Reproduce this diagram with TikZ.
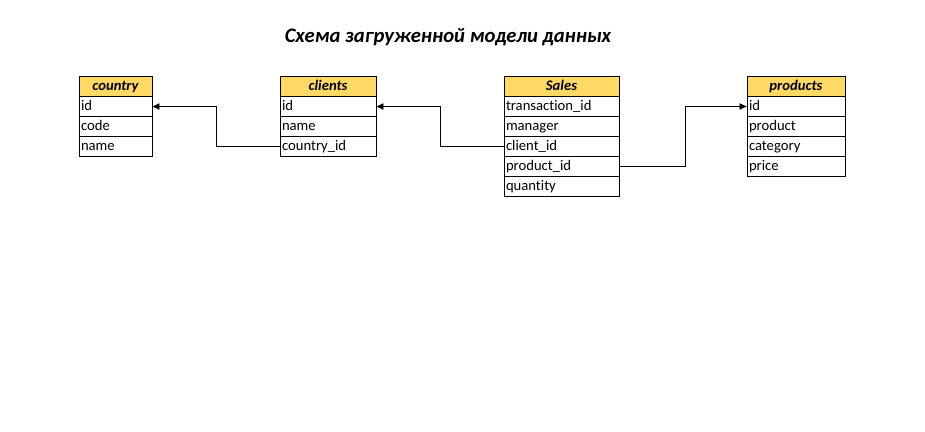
\documentclass[tikz,border=0pt]{standalone}
\usepackage{fontspec}
\setmainfont{Carlito}[Ligatures={NoCommon}]
\usetikzlibrary{positioning,arrows.meta}
\definecolor{headgold}{HTML}{FFD966}

\begin{document}
\begin{tikzpicture}[%
    x=0.75pt,
    y=-0.75pt,
    >={Latex[length=5.5pt,width=5pt]},
    node distance=0pt,
    every node/.style={outer sep=0pt, line width=0.75pt},
    head/.style={%
      draw,
      fill=headgold,
      minimum width=#1,
      text height=10.5pt,
      text depth=4.5pt,
      inner sep=0pt,
      font=\fontsize{11pt}{13pt}\selectfont\bfseries\itshape
    },
    field/.style={%
      draw,
      text width=#1,
      text height=10.75pt,
      text depth=4.25pt,
      inner xsep=1.5pt,
      inner ysep=0pt,
      align=left,
      font=\fontsize{11pt}{13pt}\selectfont
    }
  ]
    \useasboundingbox (0,0) rectangle (925,432);

    \node (title) at (448,37) {\fontsize{15.5pt}{18pt}\selectfont\bfseries\itshape Схема загруженной модели данных};

    % country
    \node[head=54.75pt] (cty) at (115.5,86.5)          {country};
    \node[field=51.75pt] (cty-id)   [below=of cty]     {id};
    \node[field=51.75pt] (cty-code) [below=of cty-id]  {code};
    \node[field=51.75pt] (cty-name) [below=of cty-code] {name};

    % clients
    \node[head=72pt] (cli) at (328,86.5)               {clients};
    \node[field=69pt] (cli-id)   [below=of cli]        {id};
    \node[field=69pt] (cli-name) [below=of cli-id]     {name};
    \node[field=69pt] (cli-cid)  [below=of cli-name]   {country\_id};

    % Sales
    \node[head=86.25pt] (sal) at (561.5,86.5)          {Sales};
    \node[field=83.25pt] (sal-tid) [below=of sal]      {transaction\_id};
    \node[field=83.25pt] (sal-man) [below=of sal-tid]  {manager};
    \node[field=83.25pt] (sal-cid) [below=of sal-man]  {client\_id};
    \node[field=83.25pt] (sal-pid) [below=of sal-cid]  {product\_id};
    \node[field=83.25pt] (sal-qty) [below=of sal-pid]  {quantity};

    % products
    \node[head=73.5pt] (prd) at (796,86.5)             {products};
    \node[field=70.5pt] (prd-id)   [below=of prd]      {id};
    \node[field=70.5pt] (prd-prod) [below=of prd-id]   {product};
    \node[field=70.5pt] (prd-cat)  [below=of prd-prod] {category};
    \node[field=70.5pt] (prd-pr)   [below=of prd-cat]  {price};

    \draw[->] (cli-cid.west) -- ++(-64,0) |- (cty-id.east);
    \draw[->] (sal-cid.west) -- ++(-64,0) |- (cli-id.east);
    \draw[->] (sal-pid.east) -- ++(66,0)  |- (prd-id.west);
  \end{tikzpicture}
\end{document}
